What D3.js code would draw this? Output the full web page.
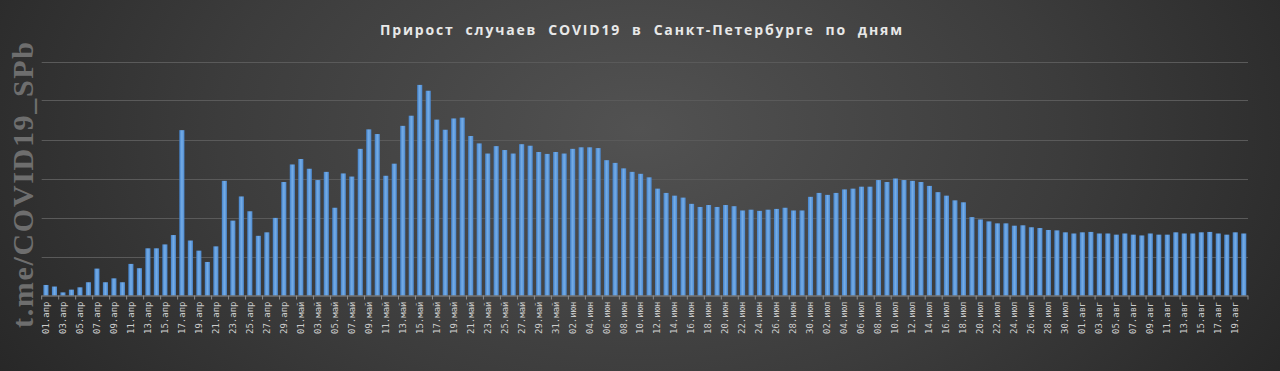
<!DOCTYPE html>
<html>
<head>
<meta charset="utf-8">
<script src="https://cdn.jsdelivr.net/npm/d3@7"></script>
<style>
  html, body { margin: 0; padding: 0; background: #2a2a2a; }
  svg { display: block; }
</style>
</head>
<body>
<script>
// daily new cases, 01.04 .. 20.08
const startDate = "2020-04-01";
const values = [
  27, 23, 8, 15, 21, 34, 69, 34, 44, 34,
  81, 70, 121, 121, 131, 155, 424, 141, 115, 86,
  126, 294, 192, 254, 216, 153, 162, 199, 291, 336,
  350, 325, 296, 317, 225, 313, 305, 376, 426, 414,
  307, 338, 435, 461, 540, 525, 451, 425, 454, 456,
  409, 390, 364, 383, 373, 364, 388, 384, 368, 363,
  368, 364, 376, 380, 380, 378, 347, 340, 326, 317,
  312, 303, 274, 263, 256, 251, 235, 227, 232, 227,
  232, 229, 218, 220, 217, 220, 222, 225, 218, 218,
  253, 263, 258, 263, 272, 274, 279, 279, 296, 291,
  300, 296, 294, 291, 281, 265, 256, 244, 239, 201,
  195, 190, 185, 185, 179, 180, 175, 173, 168, 167,
  162, 159, 162, 163, 159, 159, 156, 159, 156, 154,
  159, 156, 156, 162, 159, 159, 162, 163, 159, 156,
  162, 159
];
const monthNames = ["янв", "фев", "мар", "апр", "май", "июн", "июл", "авг", "сен", "окт", "ноя", "дек"];
const yTicks = [0, 100, 200, 300, 400, 500, 600];
const title = "Прирост  случаев  COVID19  в  Санкт-Петербурге  по  дням";
const watermark = "t.me/COVID19_SPb";

const dates = values.map((v, i) => d3.timeDay.offset(new Date(startDate + "T00:00:00"), i));
const data = values.map((v, i) => ({ date: dates[i], value: v, key: i }));
const fmt = d => d3.timeFormat("%d")(d) + "." + monthNames[d.getMonth()];

const width = 1280;
const height = 371;
const marginTop = 61.5;
const marginRight = 32;
const marginBottom = 75.5;
const marginLeft = 41.7;

const x = d3.scaleBand()
    .domain(data.map(d => d.key))
    .range([marginLeft, width - marginRight])
    .paddingInner(0.4)
    .paddingOuter(0.2);

const y = d3.scaleLinear()
    .domain([0, 600])
    .range([height - marginBottom, marginTop]);

const svg = d3.select("body")
  .append("svg")
    .attr("width", width)
    .attr("height", height)
    .attr("viewBox", [0, 0, width, height]);

const defs = svg.append("defs");
const bg = defs.append("radialGradient")
    .attr("id", "bg")
    .attr("cx", "50%").attr("cy", "35%").attr("r", "60%")
    .attr("gradientTransform", "translate(0.5,0.35) scale(1,2.2) translate(-0.5,-0.35)");
bg.append("stop").attr("offset", "0%").attr("stop-color", "#525252");
bg.append("stop").attr("offset", "55%").attr("stop-color", "#3c3c3c");
bg.append("stop").attr("offset", "100%").attr("stop-color", "#262626");

const barGrad = defs.append("linearGradient")
    .attr("id", "bar")
    .attr("x1", 0).attr("x2", 1).attr("y1", 0).attr("y2", 0);
barGrad.append("stop").attr("offset", "0%").attr("stop-color", "#4282cc");
barGrad.append("stop").attr("offset", "50%").attr("stop-color", "#76ade6");
barGrad.append("stop").attr("offset", "100%").attr("stop-color", "#4a88d0");

svg.append("rect")
    .attr("width", width)
    .attr("height", height)
    .attr("fill", "url(#bg)");

// gridlines
svg.append("g")
  .selectAll("line")
  .data(yTicks.slice(1))
  .join("line")
    .attr("x1", marginLeft)
    .attr("x2", width - marginRight)
    .attr("y1", d => Math.round(y(d)) + 0.5)
    .attr("y2", d => Math.round(y(d)) + 0.5)
    .attr("stroke", "#5a5a5a")
    .attr("stroke-width", 1);

// bars
svg.append("g")
    .attr("fill", "url(#bar)")
  .selectAll("rect")
  .data(data)
  .join("rect")
    .attr("x", d => x(d.key))
    .attr("y", d => y(d.value))
    .attr("width", x.bandwidth())
    .attr("height", d => y(0) - y(d.value));

// x axis
const step = x.step();
const xAxis = d3.axisBottom(x)
    .tickValues(data.filter(d => d.key % 2 === 0).map(d => d.key))
    .tickFormat(k => fmt(dates[k]))
    .tickSize(0)
    .tickPadding(3);

svg.append("g")
    .attr("transform", `translate(0,${y(0)})`)
    .call(xAxis)
    .call(g => g.select(".domain")
        .attr("stroke", "#8c8c8c")
        .attr("d", `M${marginLeft},0.5H${width - marginRight}`))
    .call(g => g.selectAll(".tick text")
        .attr("transform", "rotate(-90)")
        .attr("x", -6)
        .attr("y", 0)
        .attr("dy", "0.32em")
        .attr("text-anchor", "end")
        .attr("fill", "#cccccc")
        .attr("font-family", "DejaVu Sans Mono, monospace")
        .attr("font-size", 9));

// tick marks between pairs of days
svg.append("g")
    .attr("stroke", "#8c8c8c")
  .selectAll("line")
  .data(data.filter(d => d.key % 2 === 0).map(d => d.key).concat([data.length]))
  .join("line")
    .attr("x1", k => marginLeft + k * step)
    .attr("x2", k => marginLeft + k * step)
    .attr("y1", y(0))
    .attr("y2", y(0) + 4);

// title
svg.append("text")
    .attr("x", 641)
    .attr("y", 35)
    .attr("text-anchor", "middle")
    .attr("fill", "#e8e8e8")
    .attr("font-family", "Open Sans, sans-serif")
    .attr("font-weight", "bold")
    .attr("font-size", 14)
    .attr("textLength", 522)
    .attr("xml:space", "preserve")
    .style("white-space", "pre")
    .text(title);

// watermark
svg.append("text")
    .attr("transform", "translate(33,328) rotate(-90)")
    .attr("fill", "#6e6e6e")
    .attr("font-family", "Liberation Serif, serif")
    .attr("font-weight", "bold")
    .attr("font-size", 30)
    .attr("textLength", 286)
    .text(watermark);
</script>
</body>
</html>
